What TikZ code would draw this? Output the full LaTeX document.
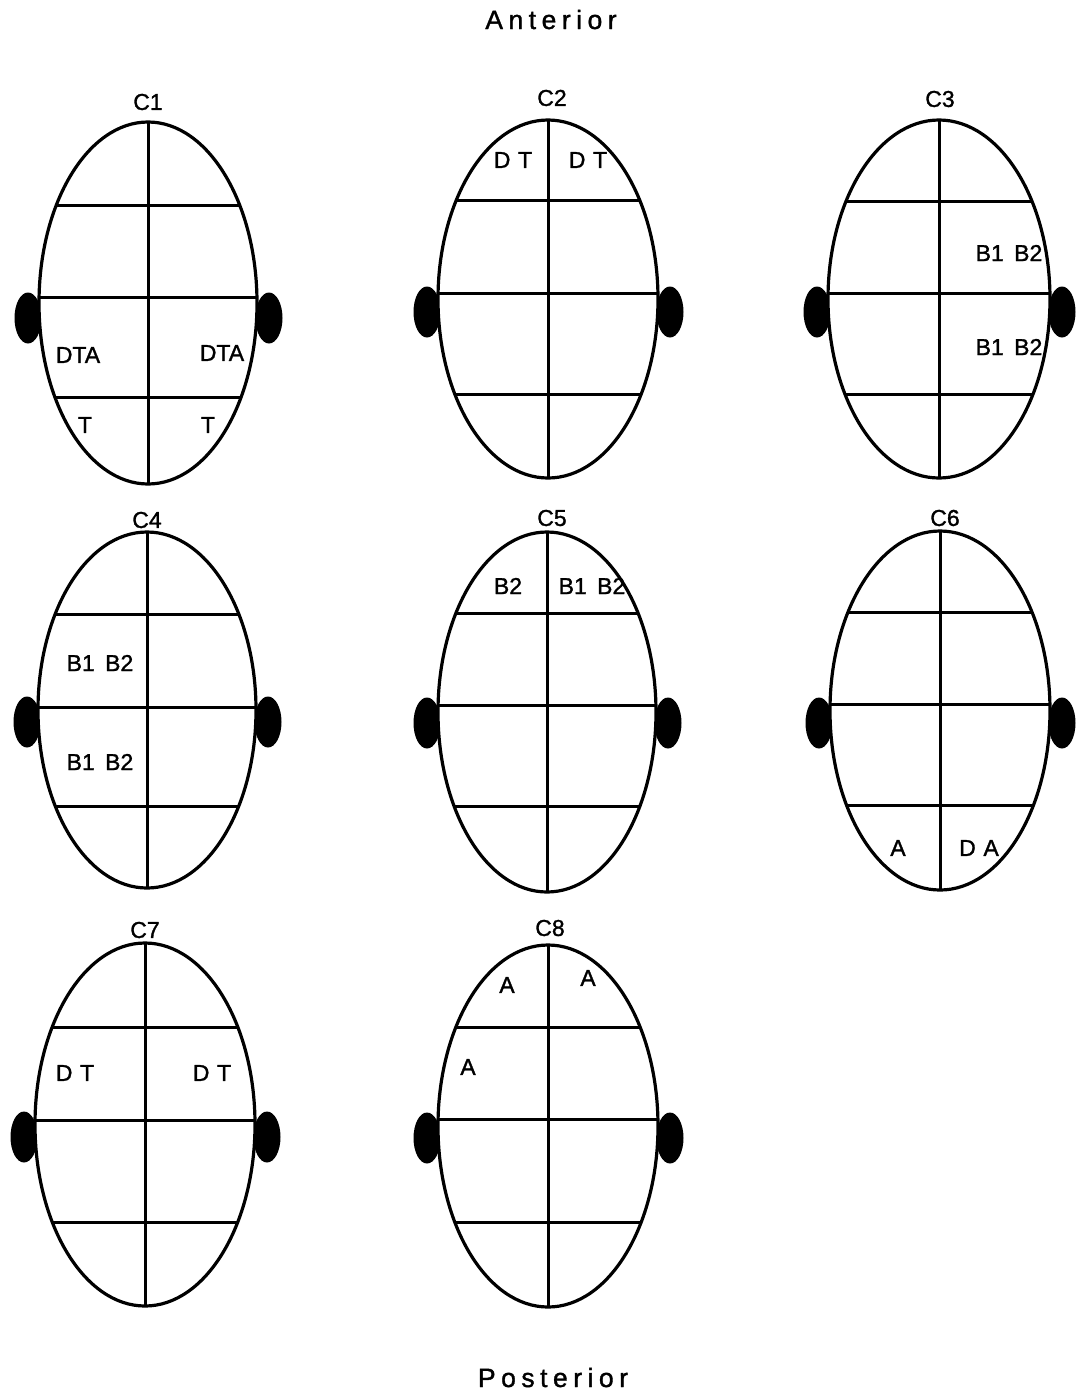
\documentclass[tikz,border=0pt]{standalone}
\usepackage{fontspec}
\setmainfont[FakeBold=1.3]{Liberation Sans}
\newcommand\trk{\kern5.5pt}
\newcommand\headfig[9]{%
  % #1 cx, #2 top, #3 bottom, #4 rx, #5 line1, #6 line2, #7 line3, #8 ear y, #9 name
  \pgfmathsetmacro\hcy{(#2+#3)/2}%
  \pgfmathsetmacro\hry{(#3-#2)/2}%
  \fill[ear] (#1-#4-11,#8) ellipse [x radius=13.5, y radius=25.5];
  \fill[ear] (#1+#4+12,#8) ellipse [x radius=13.5, y radius=25.5];
  \fill[white] (#1,\hcy) ellipse [x radius=#4, y radius=\hry];
  \begin{scope}
    \clip (#1,\hcy) ellipse [x radius=#4, y radius=\hry];
    \draw[divline] (#1-150,#5) -- (#1+150,#5);
    \draw[divline] (#1-150,#6) -- (#1+150,#6);
    \draw[divline] (#1-150,#7) -- (#1+150,#7);
  \end{scope}
  \coordinate (#9top) at (#1,#2);
  \coordinate (#9bot) at (#1,#3);
  \draw[divline] (#9top) -- (#9bot);
  \draw[headline] (#1,\hcy) ellipse [x radius=#4, y radius=\hry];
}
\begin{document}
\begin{tikzpicture}[x=1pt,y=-1pt,
  ear/.style={black},
  divline/.style={line width=3pt},
  headline/.style={line width=3.2pt},
  lab/.style={inner sep=0pt, font=\fontsize{23}{27}\selectfont},
  ttl/.style={inner sep=0pt, anchor=base, font=\fontsize{26.5}{31}\selectfont}]
\useasboundingbox[fill=white] (0,0) rectangle (1077,1393);

\node[ttl] (ant) at (551,29) {A\trk n\trk t\trk e\trk r\trk i\trk o\trk r};
\node[ttl] (post) at (553,1387) {P\trk o\trk s\trk t\trk e\trk r\trk i\trk o\trk r};

% row 1
\headfig{148}{122}{484}{109}{205}{297}{397}{318}{hA}
\headfig{548}{120}{478}{110}{200}{293}{394}{312}{hB}
\headfig{939}{120}{478}{111}{201}{293}{394}{312}{hC}
% row 2
\headfig{147}{532}{888}{109}{614}{707}{806}{722}{hD}
\headfig{547}{532}{892}{109}{613}{705}{806}{723}{hE}
\headfig{940}{531}{890}{110}{612}{704}{805}{723}{hF}
% row 3
\headfig{145}{943}{1306}{110}{1027}{1120}{1222}{1137}{hG}
\headfig{548}{945}{1307}{110}{1027}{1119}{1222}{1138}{hH}

% titles of heads
\node[lab] (c1) at (148,102) {C1};
\node[lab] (c2) at (552,98) {C2};
\node[lab] (c3) at (940,99) {C3};
\node[lab] (c4) at (147,520) {C4};
\node[lab] (c5) at (552,518) {C5};
\node[lab] (c6) at (945,518) {C6};
\node[lab] (c7) at (145,930) {C7};
\node[lab] (c8) at (550,928) {C8};

% C1 labels
\node[lab] (a1) at (78,355) {DTA};
\node[lab] (a2) at (222,353) {DTA};
\node[lab] (a3) at (85,425) {T};
\node[lab] (a4) at (208,425) {T};
% C2 labels
\node[lab] (b1) at (513,160) {D\,\,T};
\node[lab] (b2) at (588,160) {D\,\,T};
% C3 labels
\node[lab] (d1) at (1009,253) {B1\hspace{0.45em}B2};
\node[lab] (d2) at (1009,347) {B1\hspace{0.45em}B2};
% C4 labels
\node[lab] (e1) at (100,663) {B1\hspace{0.45em}B2};
\node[lab] (e2) at (100,762) {B1\hspace{0.45em}B2};
% C5 labels
\node[lab] (f1) at (508,586) {B2};
\node[lab] (f2) at (592,586) {B1\hspace{0.45em}B2};
% C6 labels
\node[lab] (g1) at (898,848) {A};
\node[lab] (g2) at (979,848) {D\,\,A};
% C7 labels
\node[lab] (k1) at (75,1073) {D\,\,T};
\node[lab] (k2) at (212,1073) {D\,\,T};
% C8 labels
\node[lab] (m1) at (507,985) {A};
\node[lab] (m2) at (588,978) {A};
\node[lab] (m3) at (468,1067) {A};
\end{tikzpicture}
\end{document}
